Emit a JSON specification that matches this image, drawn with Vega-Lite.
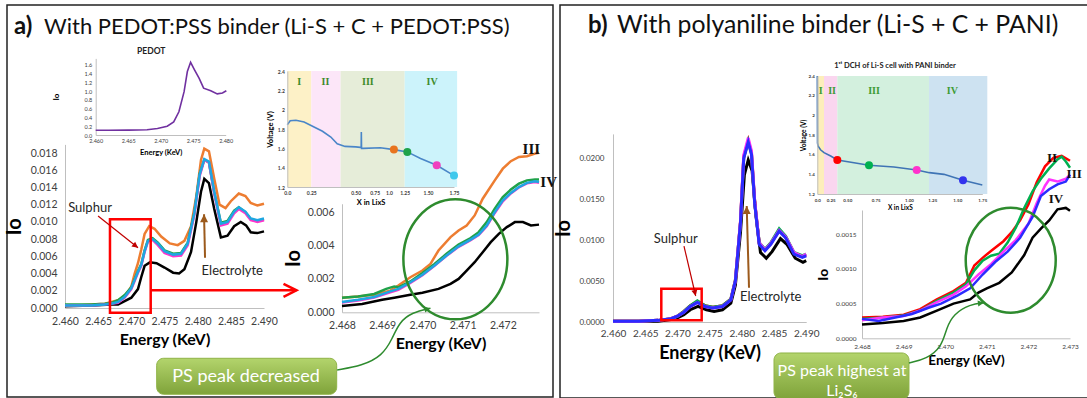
{
"$schema":"https://vega.github.io/schema/vega-lite/v6.json",
"background":"white",
"padding":{"left":3,"top":4,"right":0,"bottom":0},
"spacing":7,
"bounds":"flush",
"config":{
 "font":"Lato",
 "view":{"stroke":"#222222","strokeWidth":1.5},
 "axis":{"ticks":false,"grid":false,"domainColor":"#bfbfbf","domainWidth":1,"labelColor":"#404040","labelFont":"Lato","titleFont":"Lato","titleFontWeight":"bold","titleColor":"#000000","labelFlush":false,"labelOverlap":false,"labelBound":false},
 "text":{"font":"Lato"}
},
"datasets":{
 "pedot":[{"E":2.46,"Io":0.107},{"E":2.462,"Io":0.108},{"E":2.465,"Io":0.112},{"E":2.4679,"Io":0.12},{"E":2.4695,"Io":0.15},{"E":2.471,"Io":0.2},{"E":2.472,"Io":0.3},{"E":2.4728,"Io":0.53},{"E":2.4736,"Io":0.99},{"E":2.4741,"Io":1.45},{"E":2.4746,"Io":1.66},{"E":2.4752,"Io":1.49},{"E":2.4759,"Io":1.3},{"E":2.4766,"Io":1.07},{"E":2.4777,"Io":1.01},{"E":2.4787,"Io":0.94},{"E":2.4795,"Io":0.96},{"E":2.4801,"Io":1.01}],
 "mainA":[
  {"s":"ref","E":2.46,"Io":0.0002},{"s":"ref","E":2.464,"Io":0.0003},{"s":"ref","E":2.467,"Io":0.0004},{"s":"ref","E":2.468,"Io":0.0004},{"s":"ref","E":2.469,"Io":0.0008},{"s":"ref","E":2.47,"Io":0.0012},{"s":"ref","E":2.471,"Io":0.0022},{"s":"ref","E":2.4715,"Io":0.0036},{"s":"ref","E":2.472,"Io":0.0049},{"s":"ref","E":2.4728,"Io":0.0053},{"s":"ref","E":2.4738,"Io":0.0052},{"s":"ref","E":2.475,"Io":0.0047},{"s":"ref","E":2.4763,"Io":0.0041},{"s":"ref","E":2.4772,"Io":0.004},{"s":"ref","E":2.478,"Io":0.0045},{"s":"ref","E":2.479,"Io":0.0065},{"s":"ref","E":2.4798,"Io":0.01},{"s":"ref","E":2.4805,"Io":0.0135},{"s":"ref","E":2.481,"Io":0.015},{"s":"ref","E":2.4817,"Io":0.0145},{"s":"ref","E":2.4825,"Io":0.0115},{"s":"ref","E":2.4835,"Io":0.0082},{"s":"ref","E":2.4845,"Io":0.0084},{"s":"ref","E":2.4855,"Io":0.0095},{"s":"ref","E":2.4865,"Io":0.01},{"s":"ref","E":2.4873,"Io":0.0096},{"s":"ref","E":2.488,"Io":0.0088},{"s":"ref","E":2.489,"Io":0.0087},{"s":"ref","E":2.49,"Io":0.0089},
  {"s":"x1.08","E":2.46,"Io":0.0003},{"s":"x1.08","E":2.462,"Io":0.0003},{"s":"x1.08","E":2.464,"Io":0.0004},{"s":"x1.08","E":2.466,"Io":0.0005},{"s":"x1.08","E":2.467,"Io":0.0007},{"s":"x1.08","E":2.468,"Io":0.0009},{"s":"x1.08","E":2.469,"Io":0.0014},{"s":"x1.08","E":2.4695,"Io":0.0019},{"s":"x1.08","E":2.47,"Io":0.0025},{"s":"x1.08","E":2.4705,"Io":0.004},{"s":"x1.08","E":2.471,"Io":0.0052},{"s":"x1.08","E":2.4715,"Io":0.0068},{"s":"x1.08","E":2.472,"Io":0.0086},{"s":"x1.08","E":2.4727,"Io":0.0095},{"s":"x1.08","E":2.4735,"Io":0.0092},{"s":"x1.08","E":2.4745,"Io":0.0083},{"s":"x1.08","E":2.4758,"Io":0.0075},{"s":"x1.08","E":2.477,"Io":0.0073},{"s":"x1.08","E":2.478,"Io":0.0078},{"s":"x1.08","E":2.479,"Io":0.0095},{"s":"x1.08","E":2.4798,"Io":0.013},{"s":"x1.08","E":2.4805,"Io":0.0172},{"s":"x1.08","E":2.481,"Io":0.0185},{"s":"x1.08","E":2.4817,"Io":0.0182},{"s":"x1.08","E":2.4825,"Io":0.015},{"s":"x1.08","E":2.4833,"Io":0.012},{"s":"x1.08","E":2.4842,"Io":0.0116},{"s":"x1.08","E":2.485,"Io":0.0124},{"s":"x1.08","E":2.4862,"Io":0.0133},{"s":"x1.08","E":2.4872,"Io":0.013},{"s":"x1.08","E":2.488,"Io":0.0122},{"s":"x1.08","E":2.489,"Io":0.0119},{"s":"x1.08","E":2.49,"Io":0.0121},
  {"s":"x1.28","E":2.46,"Io":0.0004},{"s":"x1.28","E":2.464,"Io":0.0004},{"s":"x1.28","E":2.466,"Io":0.0005},{"s":"x1.28","E":2.467,"Io":0.0006},{"s":"x1.28","E":2.468,"Io":0.0009},{"s":"x1.28","E":2.469,"Io":0.0015},{"s":"x1.28","E":2.47,"Io":0.0024},{"s":"x1.28","E":2.471,"Io":0.0043},{"s":"x1.28","E":2.4715,"Io":0.0051},{"s":"x1.28","E":2.472,"Io":0.0067},{"s":"x1.28","E":2.4725,"Io":0.0079},{"s":"x1.28","E":2.4732,"Io":0.0081},{"s":"x1.28","E":2.474,"Io":0.0076},{"s":"x1.28","E":2.475,"Io":0.0067},{"s":"x1.28","E":2.4763,"Io":0.0063},{"s":"x1.28","E":2.4775,"Io":0.0064},{"s":"x1.28","E":2.4785,"Io":0.0076},{"s":"x1.28","E":2.4795,"Io":0.0111},{"s":"x1.28","E":2.4803,"Io":0.0156},{"s":"x1.28","E":2.481,"Io":0.0172},{"s":"x1.28","E":2.4817,"Io":0.0169},{"s":"x1.28","E":2.4825,"Io":0.0134},{"s":"x1.28","E":2.4835,"Io":0.0099},{"s":"x1.28","E":2.4845,"Io":0.0101},{"s":"x1.28","E":2.4855,"Io":0.0113},{"s":"x1.28","E":2.4862,"Io":0.0117},{"s":"x1.28","E":2.4872,"Io":0.0111},{"s":"x1.28","E":2.488,"Io":0.0103},{"s":"x1.28","E":2.489,"Io":0.0101},{"s":"x1.28","E":2.49,"Io":0.0103},
  {"s":"x1.58","E":2.46,"Io":0.0003},{"s":"x1.58","E":2.464,"Io":0.0003},{"s":"x1.58","E":2.466,"Io":0.0004},{"s":"x1.58","E":2.467,"Io":0.0005},{"s":"x1.58","E":2.468,"Io":0.0006},{"s":"x1.58","E":2.469,"Io":0.0012},{"s":"x1.58","E":2.47,"Io":0.0022},{"s":"x1.58","E":2.471,"Io":0.0041},{"s":"x1.58","E":2.4715,"Io":0.0049},{"s":"x1.58","E":2.472,"Io":0.0065},{"s":"x1.58","E":2.4725,"Io":0.0077},{"s":"x1.58","E":2.4732,"Io":0.0079},{"s":"x1.58","E":2.474,"Io":0.0073},{"s":"x1.58","E":2.475,"Io":0.0064},{"s":"x1.58","E":2.4763,"Io":0.006},{"s":"x1.58","E":2.4775,"Io":0.0061},{"s":"x1.58","E":2.4785,"Io":0.0073},{"s":"x1.58","E":2.4795,"Io":0.0108},{"s":"x1.58","E":2.4803,"Io":0.0153},{"s":"x1.58","E":2.481,"Io":0.0172},{"s":"x1.58","E":2.4817,"Io":0.0169},{"s":"x1.58","E":2.4825,"Io":0.0133},{"s":"x1.58","E":2.4835,"Io":0.0096},{"s":"x1.58","E":2.4845,"Io":0.0098},{"s":"x1.58","E":2.4855,"Io":0.011},{"s":"x1.58","E":2.4862,"Io":0.0115},{"s":"x1.58","E":2.4872,"Io":0.011},{"s":"x1.58","E":2.488,"Io":0.0102},{"s":"x1.58","E":2.489,"Io":0.01},{"s":"x1.58","E":2.49,"Io":0.0102},
  {"s":"x1.75","E":2.46,"Io":0.0003},{"s":"x1.75","E":2.464,"Io":0.0003},{"s":"x1.75","E":2.466,"Io":0.0004},{"s":"x1.75","E":2.467,"Io":0.0005},{"s":"x1.75","E":2.468,"Io":0.0007},{"s":"x1.75","E":2.469,"Io":0.0013},{"s":"x1.75","E":2.47,"Io":0.0023},{"s":"x1.75","E":2.471,"Io":0.0042},{"s":"x1.75","E":2.4715,"Io":0.005},{"s":"x1.75","E":2.472,"Io":0.0066},{"s":"x1.75","E":2.4725,"Io":0.0078},{"s":"x1.75","E":2.4732,"Io":0.008},{"s":"x1.75","E":2.474,"Io":0.0075},{"s":"x1.75","E":2.475,"Io":0.0066},{"s":"x1.75","E":2.4763,"Io":0.0062},{"s":"x1.75","E":2.4775,"Io":0.0063},{"s":"x1.75","E":2.4785,"Io":0.0075},{"s":"x1.75","E":2.4795,"Io":0.011},{"s":"x1.75","E":2.4803,"Io":0.0155},{"s":"x1.75","E":2.481,"Io":0.0173},{"s":"x1.75","E":2.4817,"Io":0.017},{"s":"x1.75","E":2.4825,"Io":0.0135},{"s":"x1.75","E":2.4835,"Io":0.0098},{"s":"x1.75","E":2.4845,"Io":0.01},{"s":"x1.75","E":2.4855,"Io":0.0112},{"s":"x1.75","E":2.4862,"Io":0.0117},{"s":"x1.75","E":2.4872,"Io":0.0112},{"s":"x1.75","E":2.488,"Io":0.0104},{"s":"x1.75","E":2.489,"Io":0.0102},{"s":"x1.75","E":2.49,"Io":0.0104}
 ],
 "zoomA":[
  {"s":"ref","E":2.468,"Io":0.00038},{"s":"ref","E":2.4685,"Io":0.0005},{"s":"ref","E":2.469,"Io":0.00075},{"s":"ref","E":2.4693,"Io":0.00087},{"s":"ref","E":2.4697,"Io":0.00105},{"s":"ref","E":2.47,"Io":0.00117},{"s":"ref","E":2.4704,"Io":0.0014},{"s":"ref","E":2.4707,"Io":0.0017},{"s":"ref","E":2.4709,"Io":0.002},{"s":"ref","E":2.4711,"Io":0.0025},{"s":"ref","E":2.4713,"Io":0.003},{"s":"ref","E":2.4715,"Io":0.0036},{"s":"ref","E":2.4717,"Io":0.0042},{"s":"ref","E":2.4719,"Io":0.0047},{"s":"ref","E":2.4721,"Io":0.0051},{"s":"ref","E":2.4723,"Io":0.0054},{"s":"ref","E":2.4725,"Io":0.0054},{"s":"ref","E":2.4727,"Io":0.0052},{"s":"ref","E":2.4729,"Io":0.00525},
  {"s":"x1.08","E":2.468,"Io":0.00087},{"s":"x1.08","E":2.4684,"Io":0.00095},{"s":"x1.08","E":2.4688,"Io":0.00105},{"s":"x1.08","E":2.4692,"Io":0.0013},{"s":"x1.08","E":2.4694,"Io":0.0016},{"s":"x1.08","E":2.4697,"Io":0.0021},{"s":"x1.08","E":2.47,"Io":0.0025},{"s":"x1.08","E":2.4702,"Io":0.0029},{"s":"x1.08","E":2.4704,"Io":0.0037},{"s":"x1.08","E":2.4707,"Io":0.0045},{"s":"x1.08","E":2.4709,"Io":0.0049},{"s":"x1.08","E":2.4711,"Io":0.0052},{"s":"x1.08","E":2.4713,"Io":0.0058},{"s":"x1.08","E":2.4715,"Io":0.0068},{"s":"x1.08","E":2.4718,"Io":0.0079},{"s":"x1.08","E":2.472,"Io":0.0086},{"s":"x1.08","E":2.4722,"Io":0.00905},{"s":"x1.08","E":2.4724,"Io":0.0093},{"s":"x1.08","E":2.4726,"Io":0.00935},{"s":"x1.08","E":2.4728,"Io":0.0095},{"s":"x1.08","E":2.4729,"Io":0.00955},
  {"s":"x1.28","E":2.468,"Io":0.00087},{"s":"x1.28","E":2.4684,"Io":0.00095},{"s":"x1.28","E":2.4688,"Io":0.0011},{"s":"x1.28","E":2.4691,"Io":0.0014},{"s":"x1.28","E":2.4693,"Io":0.00155},{"s":"x1.28","E":2.4694,"Io":0.0015},{"s":"x1.28","E":2.4697,"Io":0.00185},{"s":"x1.28","E":2.47,"Io":0.00235},{"s":"x1.28","E":2.4703,"Io":0.0029},{"s":"x1.28","E":2.4706,"Io":0.0035},{"s":"x1.28","E":2.4709,"Io":0.00405},{"s":"x1.28","E":2.4712,"Io":0.00445},{"s":"x1.28","E":2.4714,"Io":0.0048},{"s":"x1.28","E":2.4716,"Io":0.0054},{"s":"x1.28","E":2.4718,"Io":0.0062},{"s":"x1.28","E":2.472,"Io":0.0069},{"s":"x1.28","E":2.4722,"Io":0.00735},{"s":"x1.28","E":2.4724,"Io":0.0077},{"s":"x1.28","E":2.4726,"Io":0.0079},{"s":"x1.28","E":2.4728,"Io":0.00795},{"s":"x1.28","E":2.4729,"Io":0.00795},
  {"s":"x1.58","E":2.468,"Io":0.00058},{"s":"x1.58","E":2.4684,"Io":0.0007},{"s":"x1.58","E":2.4688,"Io":0.00088},{"s":"x1.58","E":2.4692,"Io":0.0012},{"s":"x1.58","E":2.4694,"Io":0.00135},{"s":"x1.58","E":2.4697,"Io":0.00176},{"s":"x1.58","E":2.47,"Io":0.00222},{"s":"x1.58","E":2.4703,"Io":0.00278},{"s":"x1.58","E":2.4706,"Io":0.00338},{"s":"x1.58","E":2.4709,"Io":0.00392},{"s":"x1.58","E":2.4712,"Io":0.00432},{"s":"x1.58","E":2.4714,"Io":0.00462},{"s":"x1.58","E":2.4716,"Io":0.00515},{"s":"x1.58","E":2.4718,"Io":0.00595},{"s":"x1.58","E":2.472,"Io":0.00665},{"s":"x1.58","E":2.4722,"Io":0.00712},{"s":"x1.58","E":2.4724,"Io":0.00748},{"s":"x1.58","E":2.4726,"Io":0.00772},{"s":"x1.58","E":2.4728,"Io":0.0078},{"s":"x1.58","E":2.4729,"Io":0.00776},
  {"s":"x1.75","E":2.468,"Io":0.00062},{"s":"x1.75","E":2.4684,"Io":0.00075},{"s":"x1.75","E":2.4688,"Io":0.00092},{"s":"x1.75","E":2.4692,"Io":0.00125},{"s":"x1.75","E":2.4694,"Io":0.0014},{"s":"x1.75","E":2.4697,"Io":0.0018},{"s":"x1.75","E":2.47,"Io":0.00225},{"s":"x1.75","E":2.4703,"Io":0.0028},{"s":"x1.75","E":2.4706,"Io":0.0034},{"s":"x1.75","E":2.4709,"Io":0.00395},{"s":"x1.75","E":2.4712,"Io":0.00435},{"s":"x1.75","E":2.4714,"Io":0.00465},{"s":"x1.75","E":2.4716,"Io":0.0052},{"s":"x1.75","E":2.4718,"Io":0.006},{"s":"x1.75","E":2.472,"Io":0.0067},{"s":"x1.75","E":2.4722,"Io":0.00715},{"s":"x1.75","E":2.4724,"Io":0.0075},{"s":"x1.75","E":2.4726,"Io":0.00775},{"s":"x1.75","E":2.4728,"Io":0.00785},{"s":"x1.75","E":2.4729,"Io":0.0078}
 ],
 "voltA":[{"x":0,"V":1.845},{"x":0.03,"V":1.885},{"x":0.09,"V":1.89},{"x":0.175,"V":1.872},{"x":0.257,"V":1.828},{"x":0.313,"V":1.777},{"x":0.36,"V":1.717},{"x":0.396,"V":1.648},{"x":0.44,"V":1.62},{"x":0.5,"V":1.615},{"x":0.56,"V":1.61},{"x":0.572,"V":1.612},{"x":0.574,"V":1.77},{"x":0.577,"V":1.6},{"x":0.6,"V":1.6},{"x":0.85,"V":1.606},{"x":1.078,"V":1.587},{"x":1.278,"V":1.563},{"x":1.42,"V":1.494},{"x":1.584,"V":1.425},{"x":1.75,"V":1.318}],
 "voltADots":[{"s":"x1.08","x":1.078,"V":1.587},{"s":"x1.28","x":1.278,"V":1.563},{"s":"x1.58","x":1.584,"V":1.425},{"s":"x1.75","x":1.75,"V":1.318}],
 "voltABands":[{"band":"I","x":0,"x2":0.25,"V":1.2,"V2":2.4},{"band":"II","x":0.25,"x2":0.415,"V":1.2,"V2":2.4},{"band":"III","x":0.415,"x2":1.25,"V":1.2,"V2":2.4},{"band":"IV","x":1.25,"x2":1.78,"V":1.2,"V2":2.4}],
 "voltALabels":[{"label":"I","x":0.125,"V":2.29},{"label":"II","x":0.33,"V":2.29},{"label":"III","x":0.66,"V":2.29},{"label":"IV","x":1.54,"V":2.29}],
 "mainB":[
  {"s":"ref","E":2.46,"Io":0.0001},{"s":"ref","E":2.467,"Io":0.0001},{"s":"ref","E":2.469,"Io":0.0003},{"s":"ref","E":2.47,"Io":0.0005},{"s":"ref","E":2.471,"Io":0.0009},{"s":"ref","E":2.472,"Io":0.0015},{"s":"ref","E":2.4732,"Io":0.0019},{"s":"ref","E":2.4745,"Io":0.0015},{"s":"ref","E":2.4757,"Io":0.0013},{"s":"ref","E":2.477,"Io":0.0015},{"s":"ref","E":2.4783,"Io":0.0023},{"s":"ref","E":2.479,"Io":0.0045},{"s":"ref","E":2.4798,"Io":0.011},{"s":"ref","E":2.4804,"Io":0.018},{"s":"ref","E":2.481,"Io":0.0198},{"s":"ref","E":2.4816,"Io":0.0185},{"s":"ref","E":2.4822,"Io":0.013},{"s":"ref","E":2.4829,"Io":0.0085},{"s":"ref","E":2.4838,"Io":0.0078},{"s":"ref","E":2.4847,"Io":0.0086},{"s":"ref","E":2.486,"Io":0.0102},{"s":"ref","E":2.487,"Io":0.0095},{"s":"ref","E":2.4883,"Io":0.0078},{"s":"ref","E":2.4895,"Io":0.0073},{"s":"ref","E":2.49,"Io":0.0075},
  {"s":"x0.35","E":2.46,"Io":0.0001},{"s":"x0.35","E":2.464,"Io":0.0001},{"s":"x0.35","E":2.467,"Io":0.0002},{"s":"x0.35","E":2.469,"Io":0.0004},{"s":"x0.35","E":2.47,"Io":0.0007},{"s":"x0.35","E":2.471,"Io":0.0013},{"s":"x0.35","E":2.472,"Io":0.002},{"s":"x0.35","E":2.4731,"Io":0.0025},{"s":"x0.35","E":2.4743,"Io":0.002},{"s":"x0.35","E":2.4755,"Io":0.0018},{"s":"x0.35","E":2.477,"Io":0.002},{"s":"x0.35","E":2.4783,"Io":0.0028},{"s":"x0.35","E":2.479,"Io":0.0051},{"s":"x0.35","E":2.4798,"Io":0.0123},{"s":"x0.35","E":2.4803,"Io":0.0202},{"s":"x0.35","E":2.481,"Io":0.0222},{"s":"x0.35","E":2.4815,"Io":0.0207},{"s":"x0.35","E":2.482,"Io":0.0147},{"s":"x0.35","E":2.4827,"Io":0.0096},{"s":"x0.35","E":2.4836,"Io":0.0088},{"s":"x0.35","E":2.4845,"Io":0.0096},{"s":"x0.35","E":2.4858,"Io":0.0112},{"s":"x0.35","E":2.4868,"Io":0.0104},{"s":"x0.35","E":2.4881,"Io":0.0084},{"s":"x0.35","E":2.4894,"Io":0.008},{"s":"x0.35","E":2.49,"Io":0.0082},
  {"s":"x0.69","E":2.46,"Io":0.0001},{"s":"x0.69","E":2.464,"Io":0.0001},{"s":"x0.69","E":2.467,"Io":0.0002},{"s":"x0.69","E":2.469,"Io":0.0004},{"s":"x0.69","E":2.47,"Io":0.0007},{"s":"x0.69","E":2.471,"Io":0.0013},{"s":"x0.69","E":2.472,"Io":0.002},{"s":"x0.69","E":2.4731,"Io":0.0026},{"s":"x0.69","E":2.4743,"Io":0.002},{"s":"x0.69","E":2.4755,"Io":0.0018},{"s":"x0.69","E":2.477,"Io":0.002},{"s":"x0.69","E":2.4783,"Io":0.0028},{"s":"x0.69","E":2.479,"Io":0.0051},{"s":"x0.69","E":2.4798,"Io":0.0122},{"s":"x0.69","E":2.4803,"Io":0.0201},{"s":"x0.69","E":2.481,"Io":0.0221},{"s":"x0.69","E":2.4815,"Io":0.0206},{"s":"x0.69","E":2.482,"Io":0.0146},{"s":"x0.69","E":2.4827,"Io":0.0097},{"s":"x0.69","E":2.4836,"Io":0.0089},{"s":"x0.69","E":2.4845,"Io":0.0097},{"s":"x0.69","E":2.4858,"Io":0.0114},{"s":"x0.69","E":2.4868,"Io":0.0105},{"s":"x0.69","E":2.4881,"Io":0.0085},{"s":"x0.69","E":2.4894,"Io":0.0081},{"s":"x0.69","E":2.49,"Io":0.0083},
  {"s":"x1.08","E":2.46,"Io":0.0001},{"s":"x1.08","E":2.464,"Io":0.0001},{"s":"x1.08","E":2.467,"Io":0.0002},{"s":"x1.08","E":2.469,"Io":0.0004},{"s":"x1.08","E":2.47,"Io":0.0007},{"s":"x1.08","E":2.471,"Io":0.0012},{"s":"x1.08","E":2.472,"Io":0.0019},{"s":"x1.08","E":2.4731,"Io":0.0024},{"s":"x1.08","E":2.4743,"Io":0.0019},{"s":"x1.08","E":2.4755,"Io":0.0017},{"s":"x1.08","E":2.477,"Io":0.0019},{"s":"x1.08","E":2.4783,"Io":0.0027},{"s":"x1.08","E":2.479,"Io":0.005},{"s":"x1.08","E":2.4798,"Io":0.0124},{"s":"x1.08","E":2.4803,"Io":0.0204},{"s":"x1.08","E":2.481,"Io":0.0225},{"s":"x1.08","E":2.4815,"Io":0.0209},{"s":"x1.08","E":2.482,"Io":0.0148},{"s":"x1.08","E":2.4827,"Io":0.0097},{"s":"x1.08","E":2.4836,"Io":0.0088},{"s":"x1.08","E":2.4845,"Io":0.0096},{"s":"x1.08","E":2.4858,"Io":0.0112},{"s":"x1.08","E":2.4868,"Io":0.0104},{"s":"x1.08","E":2.4881,"Io":0.0085},{"s":"x1.08","E":2.4894,"Io":0.008},{"s":"x1.08","E":2.49,"Io":0.0083},
  {"s":"x1.56","E":2.46,"Io":0.0001},{"s":"x1.56","E":2.464,"Io":0.0001},{"s":"x1.56","E":2.467,"Io":0.0002},{"s":"x1.56","E":2.469,"Io":0.0004},{"s":"x1.56","E":2.47,"Io":0.0007},{"s":"x1.56","E":2.471,"Io":0.0012},{"s":"x1.56","E":2.472,"Io":0.0019},{"s":"x1.56","E":2.4731,"Io":0.0024},{"s":"x1.56","E":2.4743,"Io":0.0019},{"s":"x1.56","E":2.4755,"Io":0.0017},{"s":"x1.56","E":2.477,"Io":0.0019},{"s":"x1.56","E":2.4783,"Io":0.0027},{"s":"x1.56","E":2.479,"Io":0.005},{"s":"x1.56","E":2.4798,"Io":0.0122},{"s":"x1.56","E":2.4803,"Io":0.02},{"s":"x1.56","E":2.481,"Io":0.022},{"s":"x1.56","E":2.4815,"Io":0.0205},{"s":"x1.56","E":2.482,"Io":0.0145},{"s":"x1.56","E":2.4827,"Io":0.0095},{"s":"x1.56","E":2.4836,"Io":0.0087},{"s":"x1.56","E":2.4845,"Io":0.0095},{"s":"x1.56","E":2.4858,"Io":0.0111},{"s":"x1.56","E":2.4868,"Io":0.0103},{"s":"x1.56","E":2.4881,"Io":0.0083},{"s":"x1.56","E":2.4894,"Io":0.0079},{"s":"x1.56","E":2.49,"Io":0.0081}
 ],
 "zoomB":[
  {"s":"ref","E":2.468,"Io":0.0002},{"s":"ref","E":2.4685,"Io":0.00022},{"s":"ref","E":2.469,"Io":0.00025},{"s":"ref","E":2.4694,"Io":0.0003},{"s":"ref","E":2.4698,"Io":0.0004},{"s":"ref","E":2.4702,"Io":0.0005},{"s":"ref","E":2.4706,"Io":0.00056},{"s":"ref","E":2.4708,"Io":0.00066},{"s":"ref","E":2.471,"Io":0.00072},{"s":"ref","E":2.4713,"Io":0.0008},{"s":"ref","E":2.4716,"Io":0.00095},{"s":"ref","E":2.4719,"Io":0.0012},{"s":"ref","E":2.4721,"Io":0.00145},{"s":"ref","E":2.4723,"Io":0.00158},{"s":"ref","E":2.4725,"Io":0.0017},{"s":"ref","E":2.4727,"Io":0.00186},{"s":"ref","E":2.4729,"Io":0.00188},{"s":"ref","E":2.473,"Io":0.00184},
  {"s":"x0.35","E":2.468,"Io":0.0003},{"s":"x0.35","E":2.4685,"Io":0.00031},{"s":"x0.35","E":2.469,"Io":0.00034},{"s":"x0.35","E":2.4694,"Io":0.00042},{"s":"x0.35","E":2.4698,"Io":0.00056},{"s":"x0.35","E":2.4702,"Io":0.00068},{"s":"x0.35","E":2.4705,"Io":0.0008},{"s":"x0.35","E":2.4707,"Io":0.00105},{"s":"x0.35","E":2.4709,"Io":0.00116},{"s":"x0.35","E":2.4711,"Io":0.00126},{"s":"x0.35","E":2.4714,"Io":0.0014},{"s":"x0.35","E":2.4716,"Io":0.00153},{"s":"x0.35","E":2.4718,"Io":0.0017},{"s":"x0.35","E":2.472,"Io":0.00193},{"s":"x0.35","E":2.4722,"Io":0.00225},{"s":"x0.35","E":2.4724,"Io":0.00248},{"s":"x0.35","E":2.4726,"Io":0.0026},{"s":"x0.35","E":2.4728,"Io":0.00263},{"s":"x0.35","E":2.473,"Io":0.00256},
  {"s":"x0.69","E":2.468,"Io":0.00028},{"s":"x0.69","E":2.4685,"Io":0.0003},{"s":"x0.69","E":2.469,"Io":0.00033},{"s":"x0.69","E":2.4694,"Io":0.0004},{"s":"x0.69","E":2.4698,"Io":0.00054},{"s":"x0.69","E":2.4702,"Io":0.00066},{"s":"x0.69","E":2.4705,"Io":0.00078},{"s":"x0.69","E":2.4707,"Io":0.00098},{"s":"x0.69","E":2.4709,"Io":0.00112},{"s":"x0.69","E":2.4711,"Io":0.00119},{"s":"x0.69","E":2.4713,"Io":0.00122},{"s":"x0.69","E":2.4715,"Io":0.00138},{"s":"x0.69","E":2.4717,"Io":0.0016},{"s":"x0.69","E":2.4719,"Io":0.00188},{"s":"x0.69","E":2.4721,"Io":0.00212},{"s":"x0.69","E":2.4723,"Io":0.0023},{"s":"x0.69","E":2.4725,"Io":0.00245},{"s":"x0.69","E":2.4727,"Io":0.00258},{"s":"x0.69","E":2.4728,"Io":0.00262},{"s":"x0.69","E":2.4729,"Io":0.00255},{"s":"x0.69","E":2.473,"Io":0.00246},
  {"s":"x1.08","E":2.468,"Io":0.00026},{"s":"x1.08","E":2.4685,"Io":0.0003},{"s":"x1.08","E":2.469,"Io":0.00032},{"s":"x1.08","E":2.4694,"Io":0.0004},{"s":"x1.08","E":2.4698,"Io":0.00052},{"s":"x1.08","E":2.4702,"Io":0.00063},{"s":"x1.08","E":2.4705,"Io":0.00075},{"s":"x1.08","E":2.4708,"Io":0.00092},{"s":"x1.08","E":2.4711,"Io":0.00107},{"s":"x1.08","E":2.4714,"Io":0.00125},{"s":"x1.08","E":2.4717,"Io":0.00142},{"s":"x1.08","E":2.472,"Io":0.00165},{"s":"x1.08","E":2.4722,"Io":0.00195},{"s":"x1.08","E":2.4724,"Io":0.0022},{"s":"x1.08","E":2.4725,"Io":0.00229},{"s":"x1.08","E":2.4727,"Io":0.00226},{"s":"x1.08","E":2.4729,"Io":0.0023},{"s":"x1.08","E":2.473,"Io":0.00236},
  {"s":"x1.56","E":2.468,"Io":0.00028},{"s":"x1.56","E":2.4684,"Io":0.00025},{"s":"x1.56","E":2.4688,"Io":0.0003},{"s":"x1.56","E":2.4692,"Io":0.00035},{"s":"x1.56","E":2.4696,"Io":0.00044},{"s":"x1.56","E":2.4699,"Io":0.0005},{"s":"x1.56","E":2.4703,"Io":0.00062},{"s":"x1.56","E":2.4706,"Io":0.00072},{"s":"x1.56","E":2.4709,"Io":0.00092},{"s":"x1.56","E":2.4712,"Io":0.0011},{"s":"x1.56","E":2.4715,"Io":0.00125},{"s":"x1.56","E":2.4718,"Io":0.00145},{"s":"x1.56","E":2.4721,"Io":0.00175},{"s":"x1.56","E":2.4723,"Io":0.00205},{"s":"x1.56","E":2.4725,"Io":0.00215},{"s":"x1.56","E":2.4727,"Io":0.00222},{"s":"x1.56","E":2.4729,"Io":0.00226},{"s":"x1.56","E":2.473,"Io":0.00236}
 ],
 "voltB":[{"x":0,"V":2.4},{"x":0.004,"V":1.72},{"x":0.013,"V":1.688},{"x":0.06,"V":1.65},{"x":0.125,"V":1.62},{"x":0.25,"V":1.586},{"x":0.35,"V":1.546},{"x":0.559,"V":1.518},{"x":0.691,"V":1.492},{"x":0.887,"V":1.475},{"x":1.083,"V":1.444},{"x":1.218,"V":1.417},{"x":1.367,"V":1.4},{"x":1.557,"V":1.339},{"x":1.75,"V":1.292}],
 "voltBDots":[{"s":"x0.35","x":0.35,"V":1.546},{"s":"x0.69","x":0.691,"V":1.492},{"s":"x1.08","x":1.083,"V":1.444},{"s":"x1.56","x":1.557,"V":1.339}],
 "voltBBands":[{"band":"I","x":0,"x2":0.125,"V":1.2,"V2":2.4},{"band":"II","x":0.125,"x2":0.35,"V":1.2,"V2":2.4},{"band":"III","x":0.35,"x2":1.215,"V":1.2,"V2":2.4},{"band":"IV","x":1.215,"x2":1.8,"V":1.2,"V2":2.4}],
 "voltBLabels":[{"label":"I","x":0.063,"V":2.247},{"label":"II","x":0.27,"V":2.247},{"label":"III","x":0.735,"V":2.247},{"label":"IV","x":1.45,"V":2.247}]
},
"hconcat":[
 {
  "width":546,"height":392,
  "resolve":{"scale":{"x":"independent","y":"independent","color":"independent","fill":"independent"}},
  "layer":[
   {
    "encoding":{
     "x":{"field":"x","type":"quantitative","scale":{"domain":[0,0.25,0.5,0.75,1,1.25,1.5,1.75],"range":[280.3,304.3,348.7,367.7,382,397.7,421,447],"zero":false,"nice":false},
      "axis":{"orient":"bottom","offset":-210,"zindex":1,"values":[0,0.25,0.5,0.75,1,1.25,1.5,1.75],"labelExpr":"datum.value == 0 ? '0.0' : datum.value == 1 ? '1.0' : format(datum.value, '.2f')","labelFontSize":5,"labelFontWeight":"bold","labelPadding":3,"title":"X in LixS","titleFontSize":7.5,"titlePadding":3}},
     "y":{"field":"V","type":"quantitative","scale":{"domain":[1.2,2.4],"range":[182,66],"zero":false,"nice":false},
      "axis":{"orient":"left","offset":-280.3,"zindex":1,"values":[1.2,1.4,1.6,1.8,2,2.2,2.4],"format":".2~f","labelFontSize":5,"labelFontWeight":"bold","labelPadding":3,"title":"Voltage (V)","titleFontSize":7.5,"titlePadding":3}}
    },
    "layer":[
     {"data":{"name":"voltABands"},"mark":{"type":"rect"},"encoding":{"x2":{"field":"x2"},"y2":{"field":"V2"},"fill":{"field":"band","type":"nominal","scale":{"domain":["I","II","III","IV"],"range":["#fdf1c7","#fce6f8","#e6edd9","#ccf3fb"]},"legend":null}}},
     {"data":{"name":"voltA"},"mark":{"type":"line","color":"#4a86c8","strokeWidth":1.6}},
     {"data":{"name":"voltADots"},"mark":{"type":"point","filled":true,"size":64,"opacity":1},"encoding":{"color":{"field":"s","type":"nominal","scale":{"domain":["x1.08","x1.28","x1.58","x1.75"],"range":["#e8741e","#1fa24a","#f03fbf","#3fc8ec"]},"legend":null}}},
     {"data":{"name":"voltALabels"},"mark":{"type":"text","font":"Liberation Serif","fontWeight":"bold","fontSize":10,"color":"#3d8b2a"},"encoding":{"text":{"field":"label"}}}
    ]
   },
   {
    "encoding":{
     "x":{"field":"E","type":"quantitative","scale":{"domain":[2.46,2.48],"range":[88.7,218.7],"zero":false,"nice":false},
      "axis":{"orient":"bottom","offset":-262,"values":[2.46,2.465,2.47,2.475,2.48],"format":".3f","labelFontSize":5.5,"labelPadding":3,"title":"Energy (KeV)","titleFontSize":7.5,"titlePadding":5}},
     "y":{"field":"Io","type":"quantitative","scale":{"domain":[0,1.75],"range":[130,53.4],"zero":false,"nice":false},
      "axis":{"orient":"left","offset":-88.7,"values":[0,0.2,0.4,0.6,0.8,1,1.2,1.4,1.6],"format":".1f","labelFontSize":5.5,"labelPadding":4,"title":"Io","titleFontSize":8,"titlePadding":24}}
    },
    "layer":[
     {"data":{"name":"pedot"},"mark":{"type":"line","color":"#7030a0","strokeWidth":1.6}},
     {"data":{"values":[{"E":2.46855,"Io":1.92,"label":"PEDOT"}]},"mark":{"type":"text","fontWeight":"bold","fontSize":8.5,"color":"#222222"},"encoding":{"text":{"field":"label"}}}
    ]
   },
   {
    "encoding":{
     "x":{"field":"E","type":"quantitative","scale":{"domain":[2.46,2.49],"range":[58,257],"zero":false,"nice":false},
      "axis":{"orient":"bottom","offset":-89,"values":[2.46,2.465,2.47,2.475,2.48,2.485,2.49],"format":".3f","labelFontSize":10.5,"labelPadding":8,"title":"Energy (KeV)","titleFontSize":16,"titlePadding":5}},
     "y":{"field":"Io","type":"quantitative","scale":{"domain":[0,0.019],"range":[303,139.4],"zero":false,"nice":false},
      "axis":{"orient":"left","offset":-58,"values":[0,0.002,0.004,0.006,0.008,0.01,0.012,0.014,0.016,0.018],"format":".3f","labelFontSize":10.5,"labelPadding":8,"title":"Io","titleFontSize":20,"titlePadding":6}}
    },
    "layer":[
     {"data":{"name":"mainA"},"mark":{"type":"line","strokeWidth":2.5},"encoding":{"color":{"field":"s","type":"nominal","scale":{"domain":["ref","x1.08","x1.28","x1.58","x1.75"],"range":["#000000","#ed7d31","#1fa24a","#ff33cc","#1ea7e1"]},"legend":null}}},
     {"data":{"values":[{"E":2.46678,"E2":2.47292,"Io":0.0103,"Io2":-0.00055}]},"mark":{"type":"rect","fill":null,"fillOpacity":0,"stroke":"#ff0000","strokeWidth":2.5},"encoding":{"x2":{"field":"E2"},"y2":{"field":"Io2"}}},
     {"data":{"values":[{"E":2.47292,"Io":0.00206},{"E":2.4949,"Io":0.00206}]},"mark":{"type":"line","color":"#ff0000","strokeWidth":2.5}},
     {"data":{"values":[{"E":2.4949,"Io":0.00206}]},"mark":{"type":"point","shape":"M-2,-1L0,0L-2,1","filled":false,"size":169,"color":"#ff0000","strokeWidth":2.5,"opacity":1}},
     {"data":{"values":[{"E":2.46498,"Io":0.01069},{"E":2.47101,"Io":0.007}]},"mark":{"type":"line","color":"#c00000","strokeWidth":1.2}},
     {"data":{"values":[{"E":2.47101,"Io":0.007}]},"mark":{"type":"point","shape":"M0,0L-2,-1L-2,1Z","filled":true,"size":36,"angle":38,"color":"#c00000","opacity":1}},
     {"data":{"values":[{"E":2.48111,"Io":0.00584},{"E":2.48096,"Io":0.01088}]},"mark":{"type":"line","color":"#9c5a1c","strokeWidth":2}},
     {"data":{"values":[{"E":2.48096,"Io":0.01088}]},"mark":{"type":"point","shape":"M0,0L-2,-1L-2,1Z","filled":true,"size":64,"angle":-90,"color":"#9c5a1c","opacity":1}},
     {"data":{"values":[{"E":2.46377,"Io":0.01165,"label":"Sulphur"},{"E":2.48522,"Io":0.0043,"label":"Electrolyte"}]},"mark":{"type":"text","fontSize":13,"color":"#262626"},"encoding":{"text":{"field":"label"}}},
     {"data":{"values":[{"E":2.45231,"Io":0.03182,"label":"a)"}]},"mark":{"type":"text","fontSize":24,"fontWeight":"bold","align":"left","baseline":"alphabetic","color":"#111111"},"encoding":{"text":{"field":"label"}}},
     {"data":{"values":[{"E":2.45684,"Io":0.03182,"label":"With PEDOT:PSS binder (Li-S + C + PEDOT:PSS)"}]},"mark":{"type":"text","fontSize":22,"align":"left","baseline":"alphabetic","color":"#111111"},"encoding":{"text":{"field":"label"}}},
     {"data":{"values":[{"E":2.47382,"E2":2.50096,"Io":-0.00584,"Io2":-0.01002}]},"mark":{"type":"rect","cornerRadius":7,"stroke":"#8fb347","strokeWidth":1,"fill":{"gradient":"linear","x1":0,"y1":0,"x2":0,"y2":1,"stops":[{"offset":0,"color":"#b3d46c"},{"offset":1,"color":"#7fa33a"}]}},"encoding":{"x2":{"field":"E2"},"y2":{"field":"Io2"}}},
     {"data":{"values":[{"E":2.48729,"Io":-0.00796,"label":"PS peak decreased"}]},"mark":{"type":"text","fontSize":18,"color":"#ffffff"},"encoding":{"text":{"field":"label"}}}
    ]
   },
   {
    "encoding":{
     "x":{"field":"E","type":"quantitative","scale":{"domain":[2.468,2.4729],"range":[335,532],"zero":false,"nice":false},
      "axis":{"orient":"bottom","offset":-84.7,"values":[2.468,2.469,2.47,2.471,2.472],"format":".3f","labelFontSize":10.5,"labelPadding":8,"title":"Energy (KeV)","titleFontSize":16,"titlePadding":5}},
     "y":{"field":"Io","type":"quantitative","scale":{"domain":[0,0.0065],"range":[307.3,198.75],"zero":false,"nice":false},
      "axis":{"orient":"left","offset":-335,"values":[0,0.002,0.004,0.006],"format":".3f","labelFontSize":10.5,"labelPadding":8,"title":"Io","titleFontSize":20,"titlePadding":4}}
    },
    "layer":[
     {"data":{"name":"zoomA"},"mark":{"type":"line","strokeWidth":2.5},"encoding":{"color":{"field":"s","type":"nominal","scale":{"domain":["ref","x1.08","x1.28","x1.58","x1.75"],"range":["#000000","#ed7d31","#1fa24a","#ff33cc","#1ea7e1"]},"legend":null}}},
     {"data":{"values":[{"E":2.47082,"Io":0.003174}]},"mark":{"type":"point","shape":"M-1,0A1,1.154,0,1,1,1,0A1,1.154,0,1,1,-1,0Z","filled":false,"size":10816,"color":"#2e8b2e","strokeWidth":2.5,"opacity":1}},
     {"data":{"values":[{"E":2.47271,"Io":0.00978,"label":"III"},{"E":2.47314,"Io":0.0078,"label":"IV"}]},"mark":{"type":"text","font":"Liberation Serif","fontWeight":"bold","fontSize":15,"color":"#111111"},"encoding":{"text":{"field":"label"}}},
     {"data":{"values":[{"E":2.46788,"Io":-0.00345},{"E":2.4685,"Io":-0.0032},{"E":2.469,"Io":-0.0026},{"E":2.46925,"Io":-0.0016},{"E":2.46942,"Io":-0.0006},{"E":2.46975,"Io":0.0000},{"E":2.4702,"Io":0.00024}]},"mark":{"type":"line","color":"#2e8b2e","strokeWidth":1.5,"interpolate":"basis"}},
     {"data":{"values":[{"E":2.4702,"Io":0.00024}]},"mark":{"type":"point","shape":"M0,0L-2,-1L-2,1Z","filled":true,"size":36,"angle":-12,"color":"#2e8b2e","opacity":1}}
    ]
   }
  ]
 },
 {
  "width":531,"height":393,
  "resolve":{"scale":{"x":"independent","y":"independent","color":"independent","fill":"independent"}},
  "layer":[
   {
    "encoding":{
     "x":{"field":"x","type":"quantitative","scale":{"domain":[0,0.25,0.5,0.75,1,1.25,1.5,1.75],"range":[257.3,270.7,287.3,315.7,349,372.3,397.3,422.3],"zero":false,"nice":false},
      "axis":{"orient":"bottom","offset":-204,"zindex":1,"values":[0,0.25,0.5,0.75,1,1.25,1.5,1.75],"labelExpr":"datum.value == 0 ? '0.0' : format(datum.value, '.2f')","labelFontSize":4.5,"labelFontWeight":"bold","labelPadding":3,"title":"X in LixS","titleFontSize":6.5,"titlePadding":3}},
     "y":{"field":"V","type":"quantitative","scale":{"domain":[1.2,2.4],"range":[189,71],"zero":false,"nice":false},
      "axis":{"orient":"left","offset":-257.3,"zindex":1,"values":[1.2,1.4,1.6,1.8,2,2.2,2.4],"format":".2~f","labelFontSize":4.5,"labelFontWeight":"bold","labelPadding":3,"title":"Voltage (V)","titleFontSize":6.5,"titlePadding":2}}
    },
    "layer":[
     {"data":{"name":"voltBBands"},"mark":{"type":"rect"},"encoding":{"x2":{"field":"x2"},"y2":{"field":"V2"},"fill":{"field":"band","type":"nominal","scale":{"domain":["I","II","III","IV"],"range":["#fdeebb","#fad6ef","#d3f0de","#cde2f1"]},"legend":null}}},
     {"data":{"name":"voltB"},"mark":{"type":"line","color":"#3f74b5","strokeWidth":1.6}},
     {"data":{"name":"voltBDots"},"mark":{"type":"point","filled":true,"size":64,"opacity":1},"encoding":{"color":{"field":"s","type":"nominal","scale":{"domain":["x0.35","x0.69","x1.08","x1.56"],"range":["#ff0000","#00b050","#ff33cc","#3333ee"]},"legend":null}}},
     {"data":{"name":"voltBLabels"},"mark":{"type":"text","font":"Liberation Serif","fontWeight":"bold","fontSize":10,"color":"#3d9b35"},"encoding":{"text":{"field":"label"}}},
     {"data":{"values":[{"x":0.895,"V":2.502,"label":"1ˢᵗ  DCH of Li-S cell with PANI binder"}]},"mark":{"type":"text","fontWeight":"bold","fontSize":7.5,"color":"#222222"},"encoding":{"text":{"field":"label"}}}
    ]
   },
   {
    "encoding":{
     "x":{"field":"E","type":"quantitative","scale":{"domain":[2.46,2.49],"range":[53,246.2],"zero":false,"nice":false},
      "axis":{"orient":"bottom","offset":-76,"values":[2.46,2.465,2.47,2.475,2.48,2.485,2.49],"format":".3f","labelFontSize":10,"labelPadding":6,"title":"Energy (KeV)","titleFontSize":18,"titlePadding":6}},
     "y":{"field":"Io","type":"quantitative","scale":{"domain":[0,0.023],"range":[317,128.9],"zero":false,"nice":false},
      "axis":{"orient":"left","offset":-53,"values":[0,0.005,0.01,0.015,0.02],"format":".4f","labelFontSize":8,"labelPadding":9,"title":"Io","titleFontSize":20,"titlePadding":5}}
    },
    "layer":[
     {"data":{"name":"mainB"},"mark":{"type":"line","strokeWidth":3},"encoding":{"color":{"field":"s","type":"nominal","scale":{"domain":["ref","x0.35","x0.69","x1.08","x1.56"],"range":["#000000","#ff0000","#00b050","#ff33ff","#2b2bff"]},"legend":null}}},
     {"data":{"values":[{"E":2.4675,"E2":2.47377,"Io":0.00407,"Io2":0.00021}]},"mark":{"type":"rect","fill":null,"fillOpacity":0,"stroke":"#ff0000","strokeWidth":2.5},"encoding":{"x2":{"field":"E2"},"y2":{"field":"Io2"}}},
     {"data":{"values":[{"E":2.47102,"Io":0.00929},{"E":2.47284,"Io":0.00318}]},"mark":{"type":"line","color":"#c00000","strokeWidth":1.2}},
     {"data":{"values":[{"E":2.47284,"Io":0.00318}]},"mark":{"type":"point","shape":"M0,0L-2,-1L-2,1Z","filled":true,"size":36,"angle":77,"color":"#c00000","opacity":1}},
     {"data":{"values":[{"E":2.48112,"Io":0.00419},{"E":2.48076,"Io":0.01418}]},"mark":{"type":"line","color":"#9c5a1c","strokeWidth":2}},
     {"data":{"values":[{"E":2.48076,"Io":0.01418}]},"mark":{"type":"point","shape":"M0,0L-2,-1L-2,1Z","filled":true,"size":64,"angle":-90,"color":"#9c5a1c","opacity":1}},
     {"data":{"values":[{"E":2.46974,"Io":0.01011,"label":"Sulphur"},{"E":2.48449,"Io":0.00309,"label":"Electrolyte"}]},"mark":{"type":"text","fontSize":13,"color":"#262626"},"encoding":{"text":{"field":"label"}}},
     {"data":{"values":[{"E":2.45612,"Io":0.03533,"label":"b)"}]},"mark":{"type":"text","fontSize":24,"fontWeight":"bold","align":"left","baseline":"alphabetic","color":"#111111"},"encoding":{"text":{"field":"label"}}},
     {"data":{"values":[{"E":2.46062,"Io":0.03533,"label":"With polyaniline binder (Li-S + C + PANI)"}]},"mark":{"type":"text","fontSize":24.8,"align":"left","baseline":"alphabetic","color":"#111111"},"encoding":{"text":{"field":"label"}}},
     {"data":{"values":[{"E":2.485,"E2":2.50596,"Io":-0.00379,"Io2":-0.00941}]},"mark":{"type":"rect","cornerRadius":7,"stroke":"#8fb347","strokeWidth":1,"fill":{"gradient":"linear","x1":0,"y1":0,"x2":0,"y2":1,"stops":[{"offset":0,"color":"#b3d46c"},{"offset":1,"color":"#7fa33a"}]}},"encoding":{"x2":{"field":"E2"},"y2":{"field":"Io2"}}},
     {"data":{"values":[{"E":2.49556,"Io":-0.00599,"label":"PS peak highest at"},{"E":2.49556,"Io":-0.00844,"label":"Li₂S₆"}]},"mark":{"type":"text","fontSize":16,"color":"#ffffff"},"encoding":{"text":{"field":"label"}}}
    ]
   },
   {
    "encoding":{
     "x":{"field":"E","type":"quantitative","scale":{"domain":[2.468,2.473],"range":[302,510],"zero":false,"nice":false},
      "axis":{"orient":"bottom","offset":-59.7,"values":[2.468,2.469,2.47,2.471,2.472,2.473],"format":".3f","labelFontSize":6.5,"labelPadding":5,"title":"Energy (KeV)","titleFontSize":13.5,"titlePadding":4}},
     "y":{"field":"Io","type":"quantitative","scale":{"domain":[0,0.00185],"range":[333.3,205],"zero":false,"nice":false},
      "axis":{"orient":"left","offset":-302,"values":[0,0.0005,0.001,0.0015],"format":".4f","labelFontSize":6.5,"labelPadding":6,"title":"Io","titleFontSize":14,"titlePadding":5}}
    },
    "layer":[
     {"data":{"name":"zoomB"},"mark":{"type":"line","strokeWidth":2.5},"encoding":{"color":{"field":"s","type":"nominal","scale":{"domain":["ref","x0.35","x0.69","x1.08","x1.56"],"range":["#000000","#ff0000","#00b050","#ff33ff","#2b2bff"]},"legend":null}}},
     {"data":{"values":[{"E":2.471575,"Io":0.001126}]},"mark":{"type":"point","shape":"M-1,0A1,1.167,0,1,1,1,0A1,1.167,0,1,1,-1,0Z","filled":false,"size":8100,"color":"#2e8b2e","strokeWidth":2.5,"opacity":1}},
     {"data":{"values":[{"E":2.47257,"Io":0.002605,"label":"II"},{"E":2.4731,"Io":0.002365,"label":"III"},{"E":2.47266,"Io":0.002005,"label":"IV"}]},"mark":{"type":"text","font":"Liberation Serif","fontWeight":"bold","fontSize":13,"color":"#111111"},"encoding":{"text":{"field":"label"}}},
     {"data":{"values":[{"E":2.46913,"Io":-0.000356},{"E":2.46955,"Io":-0.0003},{"E":2.46992,"Io":-0.00012},{"E":2.47003,"Io":0.00015},{"E":2.4702,"Io":0.00035},{"E":2.4706,"Io":0.00049},{"E":2.47093,"Io":0.000513}]},"mark":{"type":"line","color":"#2e8b2e","strokeWidth":1.5,"interpolate":"basis"}},
     {"data":{"values":[{"E":2.47093,"Io":0.000513}]},"mark":{"type":"point","shape":"M0,0L-2,-1L-2,1Z","filled":true,"size":36,"angle":-7,"color":"#2e8b2e","opacity":1}}
    ]
   }
  ]
 }
]
}
